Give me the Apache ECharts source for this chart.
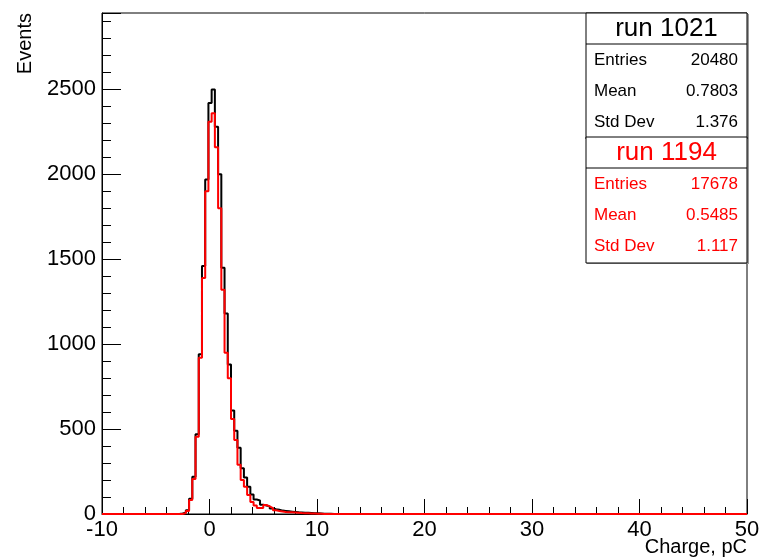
<!DOCTYPE html>
<html>
<head>
<meta charset="utf-8">
<script src="https://cdn.jsdelivr.net/npm/echarts@6/dist/echarts.min.js"></script>
<style>
  html, body { margin: 0; padding: 0; background: #fff; }
  #main { width: 762px; height: 558px; }
</style>
</head>
<body>
<div id="main"></div>
<script>
// histogram binning (run 1021 / run 1194 charge spectra)
const histMin = -10
const histMax = 50
const binWidth = 0.3
const firstBin = -2.8   // left edge of the first listed bin

// counts per bin, starting at firstBin
const run1021 = [3, 8, 22, 90, 220, 470, 940, 1460, 1970, 2420, 2500, 2280, 2000, 1450, 1180, 880, 610, 490, 390, 270,
  215, 160, 115, 85, 80, 55, 50, 45, 32, 28, 25, 20, 18, 16, 14, 12, 10, 9, 8, 7, 6, 5, 4, 3, 2, 2, 1]
const run1194 = [0, 5, 18, 82, 206, 455, 920, 1390, 1900, 2310, 2360, 2160, 1800, 1320, 950, 800, 560, 435, 290, 200,
  160, 112, 70, 50, 35, 35, 53, 45, 35, 22, 18, 15, 12, 10, 10, 9, 8, 6, 5, 4, 3, 3, 2, 1]

// stats boxes
const stats1021 = [['Entries', '20480'], ['Mean', '0.7803'], ['Std Dev', '1.376']]
const stats1194 = [['Entries', '17678'], ['Mean', '0.5485'], ['Std Dev', '1.117']]

const xTicks = { min: -10, max: 50, interval: 10 }
const yTicks = { min: 0, max: 2950, interval: 500 }

const FONT = 'Liberation Sans'

// turn bin counts into step points over the whole axis range
function toSteps(counts) {
  const nBins = Math.round((histMax - histMin) / binWidth)
  const offset = Math.round((firstBin - histMin) / binWidth)
  const pts = []
  for (let k = 0; k < nBins; k++) {
    const x = +(histMin + k * binWidth).toFixed(3)
    const i = k - offset
    pts.push([x, i >= 0 && i < counts.length ? counts[i] : 0])
  }
  pts.push([histMax, 0])
  return pts
}

//统计框
function statsBox(title, rows, top, color) {
  const left = 586, width = 161
  const els = []
  els.push({ type: 'rect', shape: { x: left + 1, y: top + 1, width: width + 1, height: 126 }, style: { fill: '#999' }, z: 9 })
  els.push({ type: 'rect', shape: { x: left, y: top, width: width, height: 126 }, style: { fill: '#fff', stroke: '#000', lineWidth: 1 }, z: 10 })
  els.push({ type: 'line', shape: { x1: left, y1: top + 31, x2: left + width, y2: top + 31 }, style: { stroke: '#000', lineWidth: 1 }, z: 11 })
  els.push({ type: 'text', x: left + width / 2, y: top + 16, z: 11,
    style: { text: title, fill: color, font: '26px "' + FONT + '"', align: 'center', verticalAlign: 'middle' } })
  rows.forEach((r, i) => {
    const y = top + 47 + i * 31
    els.push({ type: 'text', x: left + 8, y: y, z: 11,
      style: { text: r[0], fill: color, font: '17px "' + FONT + '"', align: 'left', verticalAlign: 'middle' } })
    els.push({ type: 'text', x: left + width - 9, y: y, z: 11,
      style: { text: r[1], fill: color, font: '17px "' + FONT + '"', align: 'right', verticalAlign: 'middle' } })
  })
  return els
}

const chart = echarts.init(document.getElementById('main'))
chart.setOption({
  animation: false,
  backgroundColor: '#fff',
  grid: {
    left: 102, right: 15, top: 13, bottom: 44,
    show: true, borderColor: '#000', borderWidth: 1,
    containLabel: false, outerBoundsMode: 'none'
  },
  xAxis: {
    type: 'value',
    min: xTicks.min, max: xTicks.max, interval: xTicks.interval,
    axisLine: { show: true, onZero: false, lineStyle: { color: '#000', width: 1 } },
    axisTick: { show: true, inside: true, length: 15, lineStyle: { color: '#000' } },
    minorTick: { show: true, splitNumber: 5, length: 7, lineStyle: { color: '#000' } },
    splitLine: { show: false },
    axisLabel: { color: '#000', fontSize: 22, fontFamily: FONT, margin: 5 }
  },
  yAxis: {
    type: 'value',
    min: yTicks.min, max: yTicks.max, interval: yTicks.interval,
    axisLine: { show: true, onZero: false, lineStyle: { color: '#000', width: 1 } },
    axisTick: { show: true, inside: true, length: 19, lineStyle: { color: '#000' } },
    minorTick: { show: true, splitNumber: 5, length: 9, lineStyle: { color: '#000' } },
    splitLine: { show: false },
    axisLabel: { color: '#000', fontSize: 22, fontFamily: FONT, margin: 6, showMaxLabel: false,
      formatter: v => (v % yTicks.interval === 0 ? String(v) : '') }
  },
  series: [
    {
      name: 'run 1021', type: 'line', step: 'end', showSymbol: false, z: 2,
      lineStyle: { color: '#000', width: 2 },
      data: toSteps(run1021)
    },
    {
      name: 'run 1194', type: 'line', step: 'end', showSymbol: false, z: 3,
      lineStyle: { color: '#ff0000', width: 2 },
      data: toSteps(run1194)
    }
  ],
  graphic: [
    { type: 'text', x: 747, y: 557,
      style: { text: 'Charge, pC', fill: '#000', font: '20px "' + FONT + '"', align: 'right', verticalAlign: 'bottom' } },
    { type: 'text', x: 35, y: 13, rotation: Math.PI / 2,
      style: { text: 'Events', fill: '#000', font: '20px "' + FONT + '"', align: 'right', verticalAlign: 'bottom' } }
  ].concat(statsBox('run 1021', stats1021, 13, '#000'))
   .concat(statsBox('run 1194', stats1194, 137, '#ff0000'))
})
</script>
</body>
</html>
